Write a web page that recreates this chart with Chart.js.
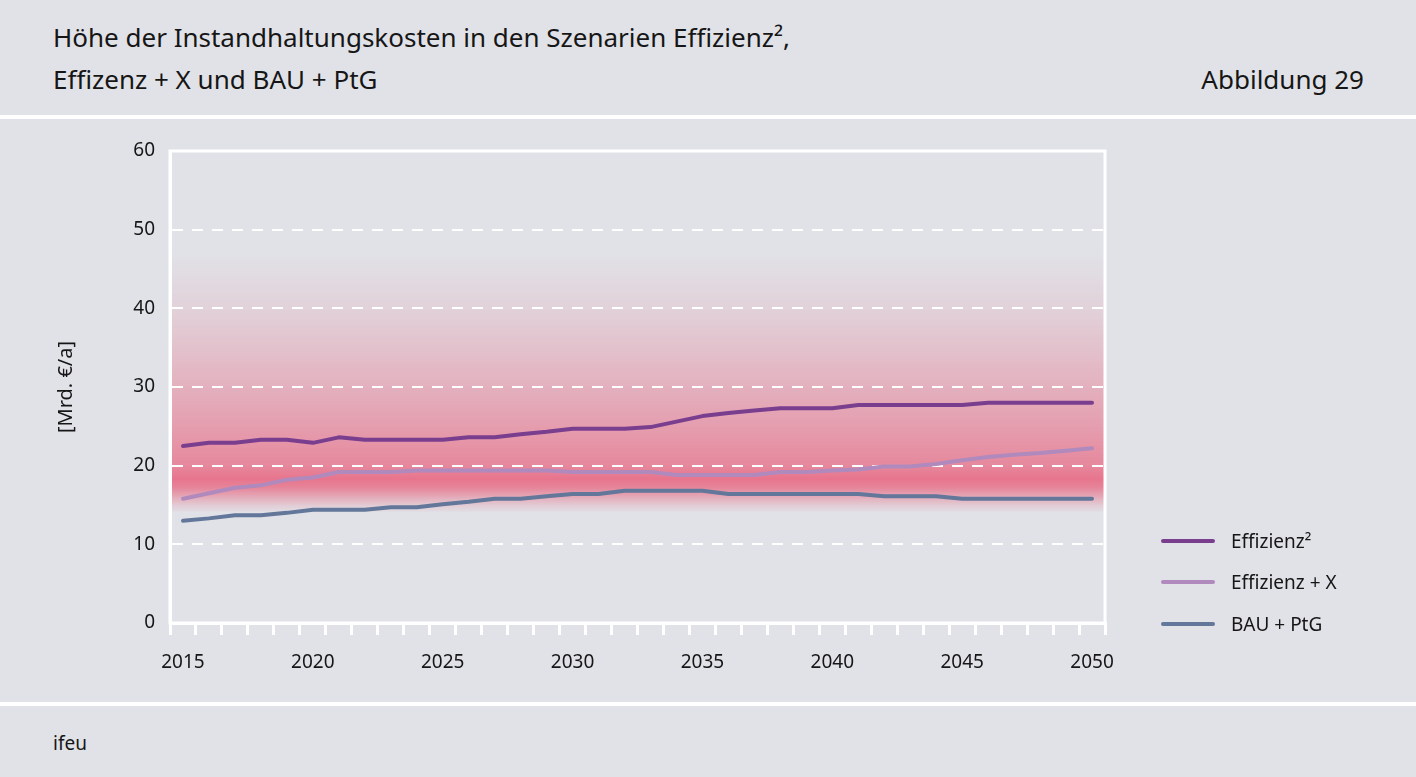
<!DOCTYPE html>
<html lang="de">
<head>
<meta charset="utf-8">
<title>Instandhaltungskosten</title>
<script src="https://cdn.jsdelivr.net/npm/chart.js@4.4.1/dist/chart.umd.min.js"></script>
<style>
    body {
        margin: 0;
        width: 1416px;
        height: 777px;
        background: #e1e2e7;
        font-family: "Noto Sans", sans-serif;
        color: #161616;
        position: relative;
        overflow: hidden;
    }
    .sep {
        position: absolute;
        left: 0;
        width: 1416px;
        height: 4px;
        background: #ffffff;
    }
    .title {
        position: absolute;
        left: 53px;
        font-size: 26px;
        line-height: 42px;
        top: 16px;
    }
    .figno {
        position: absolute;
        right: 52px;
        top: 58px;
        font-size: 26px;
        line-height: 42px;
    }
    .source {
        position: absolute;
        left: 53px;
        top: 730px;
        font-size: 19px;
    }
    #chartBox {
        position: absolute;
        left: 0;
        top: 120px;
        width: 1416px;
        height: 580px;
    }
    #legend {
        position: absolute;
        left: 1161px;
        top: 520px;
        font-size: 19px;
    }
    #legend .item {
        height: 41.5px;
        display: flex;
        align-items: center;
    }
    #legend .swatch {
        width: 54px;
        height: 4px;
        border-radius: 2px;
        margin-right: 16px;
    }
</style>
</head>
<body>
<div class="sep" style="top:115px"></div>
<div class="sep" style="top:702px"></div>
<div class="title">Höhe der Instandhaltungskosten in den Szenarien Effizienz²,<br>Effizenz + X und BAU + PtG</div>
<div class="figno">Abbildung 29</div>
<div class="source">ifeu</div>
<div id="chartBox"><canvas id="costChart"></canvas></div>
<div id="legend"></div>

<script>
const years = [];
for (let y = 2015; y <= 2050; y++) years.push(String(y));

const seriesNames = ["Effizienz²", "Effizienz + X", "BAU + PtG"];
const seriesColors = ["#7a3e8e", "#b08abd", "#62779a"];

const effizienz2 = [
    22.5, 22.9, 22.9, 23.3, 23.3, 22.9, 23.6, 23.3, 23.3, 23.3,
    23.3, 23.6, 23.6, 24.0, 24.3, 24.7, 24.7, 24.7, 24.9, 25.6,
    26.3, 26.7, 27.0, 27.3, 27.3, 27.3, 27.7, 27.7, 27.7, 27.7,
    27.7, 28.0, 28.0, 28.0, 28.0, 28.0
];
const effizienzX = [
    15.8, 16.5, 17.2, 17.5, 18.2, 18.5, 19.2, 19.2, 19.2, 19.4,
    19.4, 19.4, 19.4, 19.4, 19.4, 19.2, 19.2, 19.2, 19.2, 18.8,
    18.8, 18.8, 18.8, 19.2, 19.2, 19.4, 19.5, 19.9, 19.9, 20.2,
    20.7, 21.1, 21.4, 21.6, 21.9, 22.2
];
const bauPtg = [
    13.0, 13.3, 13.7, 13.7, 14.0, 14.4, 14.4, 14.4, 14.7, 14.7,
    15.1, 15.4, 15.8, 15.8, 16.1, 16.4, 16.4, 16.8, 16.8, 16.8,
    16.8, 16.4, 16.4, 16.4, 16.4, 16.4, 16.4, 16.1, 16.1, 16.1,
    15.8, 15.8, 15.8, 15.8, 15.8, 15.8
];

const yTicks = [0, 10, 20, 30, 40, 50, 60];

// pink glow behind the lines, stops given in axis values
const bandStops = [
    [47, 0], [44, 0.06], [40, 0.15], [35, 0.29], [30, 0.45],
    [25, 0.62], [20, 0.82], [18.3, 1], [17.2, 0.85], [16, 0.5],
    [15, 0.22], [14, 0]
];

const bandPlugin = {
    id: "band",
    beforeDraw(chart) {
        const {ctx, chartArea, scales} = chart;
        const top = scales.y.getPixelForValue(bandStops[0][0]);
        const bottom = scales.y.getPixelForValue(bandStops[bandStops.length - 1][0]);
        const grad = ctx.createLinearGradient(0, top, 0, bottom);
        bandStops.forEach(([v, a]) => {
            const p = (scales.y.getPixelForValue(v) - top) / (bottom - top);
            grad.addColorStop(p, `rgba(231, 116, 140, ${a})`);
        });
        ctx.save();
        ctx.fillStyle = grad;
        ctx.fillRect(chartArea.left, top, chartArea.right - chartArea.left, bottom - top);
        ctx.restore();
    }
};

const framePlugin = {
    id: "frame",
    beforeDatasetsDraw(chart) {
        const {ctx, chartArea} = chart;
        ctx.save();
        ctx.strokeStyle = "#ffffff";
        ctx.lineWidth = 3;
        ctx.strokeRect(chartArea.left, chartArea.top, chartArea.right - chartArea.left, chartArea.bottom - chartArea.top);
        ctx.restore();
    }
};

const tickFont = { family: "Noto Sans", size: 19 };

const ctx = document.getElementById("costChart");

const costChart = new Chart(ctx, {
    type: "line",
    data: {
        labels: years,
        datasets: [effizienz2, effizienzX, bauPtg].map((values, i) => ({
            label: seriesNames[i],
            data: values,
            borderColor: seriesColors[i],
            borderWidth: 4,
            pointRadius: 0,
            tension: 0,
            borderCapStyle: "round",
            borderJoinStyle: "round"
        }))
    },
    options: {
        responsive: true,
        maintainAspectRatio: false,
        animation: false,
        layout: {
            padding: { left: 51, top: 31, right: 311, bottom: 0 }
        },
        plugins: {
            legend: { display: false },
            tooltip: { enabled: false }
        },
        scales: {
            x: {
                type: "category",
                offset: true,
                afterFit: scale => { scale.height = 77; },
                ticks: {
                    autoSkip: false,
                    maxRotation: 0,
                    padding: 16,
                    color: "#161616",
                    font: tickFont,
                    callback: function(value) {
                        const year = this.getLabelForValue(value);
                        return Number(year) % 5 === 0 ? year : "";
                    }
                },
                grid: {
                    offset: true,
                    drawOnChartArea: false,
                    drawTicks: true,
                    tickLength: 12,
                    color: "#ffffff",
                    lineWidth: 3
                },
                border: { color: "#ffffff", width: 3 }
            },
            y: {
                min: 0,
                max: 60,
                afterFit: scale => { scale.width = 119; },
                afterBuildTicks: scale => {
                    scale.ticks = yTicks.map(v => ({ value: v }));
                },
                title: {
                    display: true,
                    text: "[Mrd. €/a]",
                    color: "#161616",
                    font: { family: "Noto Sans", size: 20 },
                    padding: 3
                },
                ticks: {
                    padding: 15,
                    color: "#161616",
                    font: tickFont
                },
                grid: {
                    drawTicks: false,
                    color: "#ffffff",
                    lineWidth: 2
                },
                border: { color: "#ffffff", width: 3, dash: [11, 9] }
            }
        }
    },
    plugins: [bandPlugin, framePlugin]
});

const legendBox = document.getElementById("legend");
seriesNames.forEach((name, i) => {
    const item = document.createElement("div");
    item.className = "item";
    item.innerHTML = `<span class="swatch" style="background:${seriesColors[i]}"></span><span>${name}</span>`;
    legendBox.appendChild(item);
});
</script>
</body>
</html>
